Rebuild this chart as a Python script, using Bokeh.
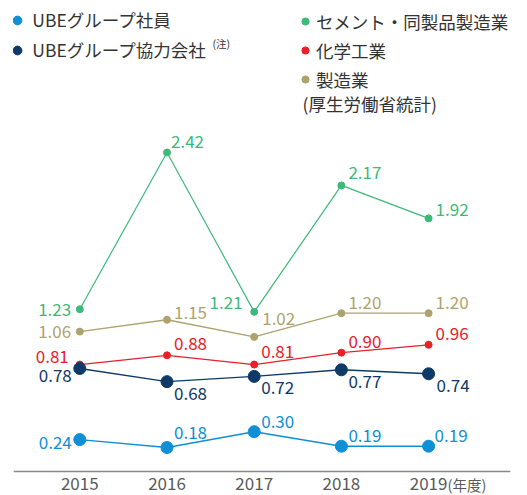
from bokeh.plotting import figure
from bokeh.models import (ColumnDataSource, Range1d, FixedTicker, Label, Legend, LegendItem)
from bokeh.embed import file_html
from bokeh.resources import INLINE
from bokeh.core.properties import value

# ---------------- data ----------------
years = [2015, 2016, 2017, 2018, 2019]
year_labels = ["2015", "2016", "2017", "2018", "2019"]
ube_employees = [0.24, 0.18, 0.30, 0.19, 0.19]
ube_partners = [0.78, 0.68, 0.72, 0.77, 0.74]
cement = [1.23, 2.42, 1.21, 2.17, 1.92]
chemical = [0.81, 0.88, 0.81, 0.90, 0.96]
manufacturing = [1.06, 1.15, 1.02, 1.20, 1.20]

series_names = ["UBEグループ社員", "UBEグループ協力会社", "セメント・同製品製造業", "化学工業", "製造業"]
note_text = "(注)"
source_text = "(厚生労働省統計)"
year_unit = "(年度)"

# ---------------- styles ----------------
FONT = "Noto Sans CJK JP"
C_LBLUE = "#0e8fd6"
C_NAVY = "#0d3a66"
C_GREEN = "#3dba78"
C_RED = "#e8202a"
C_KHAKI = "#ada36e"

# label offsets (screen px) and alignment per point
lab_style = {
    "emp": dict(dx=[-8, 7, 7, 7, 6], dy=[3, -15, -10, -11, -11], al=["right", "left", "left", "left", "left"]),
    "par": dict(dx=[-8, 7, 7, 7, 8], dy=[7, 11.5, 11, 12, 11.5], al=["right", "left", "left", "left", "left"]),
    "cem": dict(dx=[-8.6, 4, -11.6, 7, 7], dy=[0, -11.3, -9.3, -12.6, -9], al=["right", "left", "right", "left", "left"]),
    "chm": dict(dx=[-11, 7, 7, 7, 7], dy=[-8, -12, -13, -11, -11], al=["right", "left", "left", "left", "left"]),
    "mfg": dict(dx=[-8.6, 7, 8, 7, 7], dy=[0, -7, -18, -11, -11], al=["right", "left", "left", "left", "left"]),
}

# ---------------- layout ----------------
FRAME_LEFT = 13
FRAME_W, FRAME_H = 497, 495
PX_PER_UNIT = 131.7
PX_PER_YEAR = 87.2
x_start = 2015 - 66.3 / PX_PER_YEAR
x_end = x_start + FRAME_W / PX_PER_YEAR
y_end = 2.42 + 152 / PX_PER_UNIT
y_start = y_end - FRAME_H / PX_PER_UNIT

p = figure(frame_width=FRAME_W, frame_height=FRAME_H,
           x_range=Range1d(x_start, x_end), y_range=Range1d(y_start, y_end),
           output_backend="svg", toolbar_location=None, y_axis_location=None,
           min_border_left=FRAME_LEFT, min_border_right=527 - FRAME_LEFT - FRAME_W,
           min_border_top=0, min_border_bottom=0)
p.outline_line_color = None
p.xgrid.grid_line_color = None
p.ygrid.grid_line_color = None
p.background_fill_color = "white"
p.border_fill_color = "white"

ax = p.xaxis[0]
ax.fixed_location = 0
ax.ticker = FixedTicker(ticks=years)
ax.major_label_overrides = {y: s for y, s in zip(years, year_labels)}
ax.axis_line_color = "#888888"
ax.axis_line_width = 1.6
ax.major_tick_line_color = None
ax.minor_tick_line_color = None
ax.major_label_text_font = FONT
ax.major_label_text_font_size = "17px"
ax.major_label_text_font_style = "normal"
ax.major_label_text_color = "#5a5a5a"
ax.major_label_standoff = 0

def add_series(vals, color, size, lw, key):
    st = lab_style[key]
    src = ColumnDataSource(dict(x=years, y=vals, t=[f"{v:.2f}" for v in vals],
                                dx=st["dx"], dy=st["dy"], al=st["al"]))
    p.line("x", "y", source=src, line_color=color, line_width=lw)
    r = p.scatter("x", "y", source=src, size=size, fill_color=color, line_color=color)
    p.text("x", "y", text="t", source=src, x_offset="dx", y_offset="dy", text_align="al",
           text_baseline="middle", text_color=color, text_font=value(FONT), text_font_size="17px")
    return r

r_cem = add_series(cement, C_GREEN, 7, 1.2, "cem")
r_mfg = add_series(manufacturing, C_KHAKI, 7, 1.4, "mfg")
r_chm = add_series(chemical, C_RED, 7, 1.3, "chm")
r_par = add_series(ube_partners, C_NAVY, 12, 1.4, "par")
r_emp = add_series(ube_employees, C_LBLUE, 12, 1.4, "emp")

def make_legend(items, glyph, loc, spacing, standoff):
    lg = Legend(items=items, location=loc, orientation="vertical",
                glyph_width=glyph, glyph_height=glyph, label_height=22,
                spacing=spacing, label_standoff=standoff, padding=0, margin=0,
                border_line_color=None, background_fill_alpha=0,
                label_text_font=FONT, label_text_font_size="17.5px",
                label_text_color="#333333")
    p.add_layout(lg)
    return lg

# page y of frame bottom is FRAME_H (no page margin)
make_legend([LegendItem(label=series_names[0], renderers=[r_emp]),
             LegendItem(label=series_names[1], renderers=[r_par])],
            22, (6.3 - FRAME_LEFT, FRAME_H - 62), 5, 4)
make_legend([LegendItem(label=series_names[2], renderers=[r_cem]),
             LegendItem(label=series_names[3], renderers=[r_chm]),
             LegendItem(label=series_names[4], renderers=[r_mfg])],
            18, (296 - FRAME_LEFT, FRAME_H - 91.5), 4, 2)

p.add_layout(Label(x=212 - FRAME_LEFT, y=FRAME_H - 43, x_units="screen", y_units="screen",
                   text=note_text, text_font=FONT, text_font_size="10.5px",
                   text_color="#333333", text_baseline="middle"))
p.add_layout(Label(x=302 - FRAME_LEFT, y=FRAME_H - 103, x_units="screen", y_units="screen",
                   text=source_text, text_font=FONT, text_font_size="17.5px",
                   text_color="#333333", text_baseline="middle"))
p.add_layout(Label(x=2019, y=FRAME_H - 484, x_units="data", y_units="screen", x_offset=19,
                   text=year_unit, text_font=FONT, text_font_size="14.5px",
                   text_color="#5a5a5a", text_baseline="middle"))

open("out.html", "w").write(file_html(p, INLINE))
